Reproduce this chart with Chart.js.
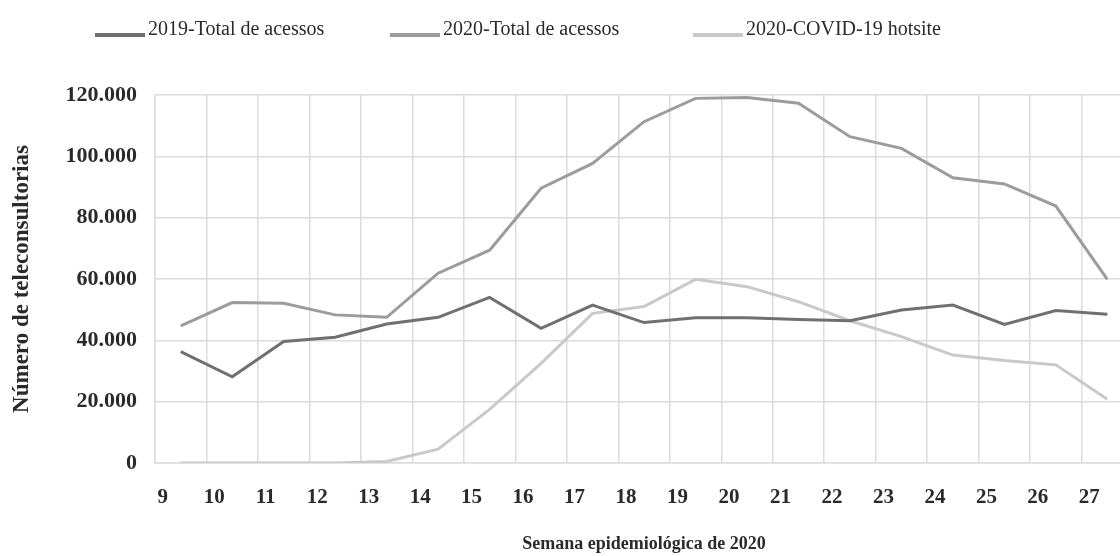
<!DOCTYPE html>
<html>
<head>
<meta charset="utf-8">
<script src="https://cdn.jsdelivr.net/npm/chart.js@4/dist/chart.umd.min.js"></script>
<style>
	html, body { margin: 0; padding: 0; background: #fff; overflow: hidden; }
	#wrap { position: relative; width: 1120px; height: 556px; overflow: hidden; }
	#legend { position: absolute; top: 0; left: 0; width: 1120px; height: 60px; }
	.item { position: absolute; top: 17px; font: 20px "Liberation Serif", serif; color: #2a2a2a; white-space: nowrap; }
	.item .sw { position: absolute; left: 0; top: 16px; width: 50px; height: 4px; }
	.item .tx { position: absolute; left: 53px; top: 0; line-height: 23px; }
	canvas { position: absolute; top: 0; left: 0; }
</style>
</head>
<body>
<div id="wrap">
	<canvas id="chart" width="1140" height="556"></canvas>
	<div id="legend"></div>
</div>
<script>
// semanas epidemiologicas
var weeks = ['9','10','11','12','13','14','15','16','17','18','19','20','21','22','23','24','25','26','27']

var total2019 = [36300, 28100, 39600, 41000, 45300, 47500, 54000, 43900, 51500, 45800,
	47400, 47400, 46800, 46400, 49900, 51500, 45200, 49700, 48500]
var total2020 = [44700, 52300, 52100, 48300, 47500, 61900, 69400, 89600, 97700, 111300,
	118900, 119200, 117300, 106400, 102600, 93000, 91000, 83800, 59900]
var hotsite2020 = [0, 0, 0, 0, 500, 4500, 17500, 32500, 48800, 51000,
	59900, 57500, 52600, 46400, 41200, 35200, 33400, 32000, 20800]

var seriesNames = ['2019-Total de acessos', '2020-Total de acessos', '2020-COVID-19 hotsite']
var seriesColors = ['#707070', '#9c9c9c', '#c9c9c9']
var yTicks = [0, 20000, 40000, 60000, 80000, 100000, 120000]

var serif = '"Liberation Serif", "DejaVu Serif", serif'

function fmt(v) {
	return Number(v).toLocaleString('pt-BR')
}

var series = [total2019, total2020, hotsite2020]
var datasets = []
for (var i = 0; i < series.length; i++) {
	datasets.push({
		label: seriesNames[i],
		data: series[i],
		borderColor: seriesColors[i],
		backgroundColor: seriesColors[i],
		borderWidth: 3,
		pointRadius: 0,
		tension: 0
	})
}

// legenda em html, pra ficar igual a posicao original
var legendLeft = [95, 390, 693]
var $legend = document.getElementById('legend')
datasets.forEach(function (ds, i) {
	var el = document.createElement('div')
	el.className = 'item'
	el.style.left = legendLeft[i] + 'px'
	el.innerHTML = '<span class="sw" style="background:' + ds.borderColor + '"></span><span class="tx">' + ds.label + '</span>'
	$legend.appendChild(el)
})

var chart = new Chart(document.getElementById('chart'), {
	type: 'line',
	data: { labels: weeks, datasets: datasets },
	options: {
		responsive: false,
		animation: false,
		layout: { padding: { top: 95, right: 6, left: 0, bottom: 0 } },
		plugins: { legend: { display: false }, tooltip: { enabled: false } },
		scales: {
			x: {
				type: 'category',
				offset: true,
				grid: { offset: true, color: '#dcdcdc', lineWidth: 1.5, drawTicks: false },
				border: { color: '#dcdcdc', width: 1.5 },
				ticks: {
					autoSkip: false, maxRotation: 0, padding: 22, labelOffset: -18,
					color: '#2a2a2a', font: { family: serif, size: 21, weight: 'bold' }
				},
				title: {
					display: true, text: 'Semana epidemiológica de 2020', color: '#2a2a2a',
					font: { family: serif, size: 18, weight: 'bold' }, padding: { top: 0, bottom: 1 }
				},
				afterFit: function (scale) { scale.height = 93 }
			},
			y: {
				min: 0, max: 120000,
				afterBuildTicks: function (scale) {
					scale.ticks = yTicks.map(function (v) { return { value: v } })
				},
				grid: { color: '#dcdcdc', lineWidth: 1.5, drawTicks: false },
				border: { color: '#dcdcdc', width: 1.5 },
				ticks: {
					padding: 18, color: '#2a2a2a',
					font: { family: serif, size: 22, weight: 'bold' },
					callback: function (v) { return fmt(v) }
				},
				title: {
					display: true, text: 'Número de teleconsultorias', color: '#2a2a2a',
					font: { family: serif, size: 23, weight: 'bold' }, padding: { top: 8, bottom: 0 }
				},
				afterFit: function (scale) { scale.width = 155 }
			}
		}
	}
})
</script>
</body>
</html>
